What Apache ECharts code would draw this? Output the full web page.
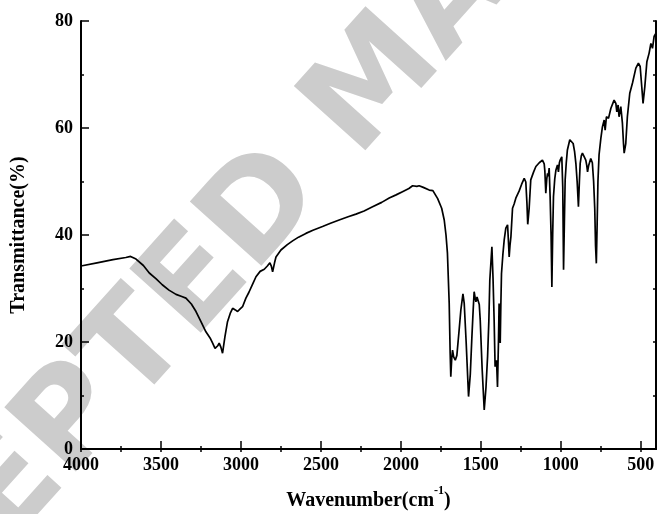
<!DOCTYPE html>
<html>
<head>
<meta charset="utf-8">
<script src="https://cdn.jsdelivr.net/npm/echarts@6/dist/echarts.min.js"></script>
<style>
html,body{margin:0;padding:0;background:#fff;overflow:hidden;}
#chart{width:657px;height:514px;}
</style>
</head>
<body>
<div id="chart"></div>
<script>
var wavenumbers = [4000,3900,3800,3720,3690,3656,3610,3573,3530,3492,3450,3406,3370,3344,3310,3281,3250,3219,3190,3177,3162,3145,3136,3125,3115,3100,3084,3065,3052,3035,3021,3005,2990,2969,2950,2927,2906,2880,2854,2835,2819,2810,2802,2790,2781,2750,2710,2677,2640,2594,2550,2490,2440,2386,2330,2281,2230,2177,2120,2073,2030,1990,1950,1927,1900,1886,1860,1823,1800,1790,1770,1761,1745,1729,1718,1709,1698,1692,1688,1682,1677,1670,1660,1650,1636,1625,1612,1604,1592,1577,1566,1556,1548,1542,1536,1531,1524,1517,1510,1504,1492,1479,1468,1458,1450,1444,1431,1424,1417,1411,1406,1402,1396,1390,1386,1382,1379,1375,1371,1362,1354,1344,1333,1327,1323,1318,1312,1302,1292,1280,1261,1245,1229,1219,1212,1207,1204,1198,1188,1170,1156,1135,1115,1104,1100,1094,1088,1083,1078,1073,1067,1061,1056,1051,1046,1038,1031,1021,1015,1009,1004,994,988,983,978,973,966,959,944,935,923,914,906,898,890,884,879,872,865,855,844,838,833,826,813,803,795,788,783,778,773,768,761,750,740,729,723,715,702,687,675,667,656,650,642,636,625,615,608,604,594,584,569,552,531,515,504,494,486,475,462,448,437,427,417,406];
var transmittance = [34.2,34.8,35.4,35.8,36.0,35.5,34.3,32.9,31.8,30.7,29.7,28.9,28.5,28.2,27.1,25.7,23.8,21.9,20.6,19.8,18.8,19.3,19.8,19.0,17.9,21.0,23.8,25.5,26.3,26.0,25.7,26.2,26.6,28.2,29.3,30.8,32.2,33.2,33.6,34.2,34.8,34.2,33.1,34.8,35.9,37.2,38.2,38.9,39.6,40.3,40.9,41.6,42.2,42.8,43.4,43.9,44.5,45.3,46.1,46.9,47.5,48.1,48.7,49.2,49.1,49.2,48.9,48.4,48.3,48.0,46.8,46.5,45.0,42.8,40.0,36.6,27.3,18.0,13.5,17.0,18.5,17.2,16.6,17.5,22.2,26.0,29.0,27.2,20.0,9.8,14.0,21.0,26.0,29.4,28.3,27.5,28.4,28.2,27.0,24.1,15.0,7.3,11.5,17.3,24.0,31.6,37.8,32.0,24.1,15.4,16.2,16.6,11.6,20.0,27.2,23.0,19.8,27.0,32.8,36.5,39.1,41.3,41.9,38.5,35.9,38.0,39.7,45.0,45.8,47.0,48.2,49.5,50.6,49.9,46.0,42.0,41.9,45.0,50.3,51.8,52.8,53.5,54.0,53.3,52.0,47.8,50.5,51.5,51.0,52.5,47.2,40.0,30.3,40.0,47.2,50.5,52.1,53.1,51.8,53.5,54.0,54.6,49.0,33.5,42.0,50.3,53.5,55.9,57.8,57.7,57.1,55.6,53.4,50.0,45.3,50.0,53.4,54.8,55.3,54.7,54.0,53.0,51.8,53.0,54.3,53.5,50.0,45.0,38.0,34.7,42.0,50.0,55.0,58.0,60.2,61.5,59.6,62.1,61.8,63.7,64.6,65.2,64.6,63.0,64.3,62.1,64.0,60.9,57.0,55.3,57.1,62.1,66.5,68.4,71.2,72.1,71.5,67.7,64.6,67.7,72.4,74.0,75.8,74.9,77.1,77.7];
var xTickLabels = [4000,3500,3000,2500,2000,1500,1000,500];
var xMinorTicks = [3750,3250,2750,2250,1750,1250,750];
var xTopTicks = [4000,3750,3500,3250,3000,2750,2500,2250,2000,1750,1500,1250,1000,750,500];
var yTickLabels = [0,20,40,60,80];
var xTitle = 'Wavenumber(cm';
var xTitleSup = '-1';
var yTitle = 'Transmittance(%)';
var watermark = 'ACCEPTED MANUSCRIPT';

var seriesData = wavenumbers.map(function(w, i){ return [w, transmittance[i]]; });

var FONT = 'Liberation Serif';
var XMIN = 405, XMAX = 4000;
var axisLineStyle = {color:'#000', width:2};

var chart = echarts.init(document.getElementById('chart'), null, {renderer:'canvas'});
chart.setOption({
  animation:false,
  backgroundColor:'#fff',
  grid:{left:81, top:21, width:575, height:428, containLabel:false, outerBoundsMode:'none'},
  graphic:[{
    type:'text', x:386, y:76, rotation: 48*Math.PI/180, z:0, silent:true,
    style:{text:watermark, fill:'#cccccc', font:'bold 132px "DejaVu Sans"', textAlign:'center', textVerticalAlign:'middle'}
  }],
  xAxis:[
    {type:'value', position:'bottom', inverse:true, min:XMIN, max:XMAX,
     axisLine:{show:true, lineStyle:axisLineStyle},
     axisTick:{show:true, inside:true, length:8, customValues:xTickLabels, lineStyle:{color:'#000', width:1.5}},
     axisLabel:{show:true, customValues:xTickLabels, margin:7, color:'#000', fontFamily:FONT, fontWeight:'bold', fontSize:18,
       formatter:function(v){ return String(v); }},
     splitLine:{show:false},
     name:'{a|'+xTitle+'}{s|'+xTitleSup+'}{a|)}', nameLocation:'middle', nameGap:36,
     nameTextStyle:{rich:{
       a:{fontFamily:FONT, fontWeight:'bold', fontSize:20, color:'#000', verticalAlign:'bottom', lineHeight:26},
       s:{fontFamily:FONT, fontWeight:'bold', fontSize:12, color:'#000', verticalAlign:'top', lineHeight:26}
     }}
    },
    {type:'value', position:'bottom', inverse:true, min:XMIN, max:XMAX,
     axisLine:{show:false},
     axisTick:{show:true, inside:true, length:3, customValues:xMinorTicks, lineStyle:{color:'#000', width:1.5}},
     axisLabel:{show:false}, splitLine:{show:false}
    },
    {type:'value', position:'top', inverse:true, min:XMIN, max:XMAX,
     axisLine:{show:true, lineStyle:axisLineStyle},
     axisTick:{show:true, inside:true, length:3, customValues:xTopTicks, lineStyle:{color:'#000', width:1.5}},
     axisLabel:{show:false}, splitLine:{show:false}
    }
  ],
  yAxis:[
    {type:'value', position:'left', min:0, max:80, interval:20,
     axisLine:{show:true, lineStyle:axisLineStyle},
     axisTick:{show:true, inside:true, length:8, lineStyle:{color:'#000', width:1.5}},
     axisLabel:{show:true, margin:8, color:'#000', fontFamily:FONT, fontWeight:'bold', fontSize:18,
       formatter:function(v){ return yTickLabels.indexOf(v) >= 0 ? String(v) : ''; }},
     splitLine:{show:false},
     name:yTitle, nameLocation:'middle', nameGap:52, nameRotate:90,
     nameTextStyle:{fontFamily:FONT, fontWeight:'bold', fontSize:20, color:'#000'}
    },
    {type:'value', position:'left', min:0, max:80, interval:10,
     axisLine:{show:false},
     axisTick:{show:true, inside:true, length:3, lineStyle:{color:'#000', width:1.5}},
     axisLabel:{show:false}, splitLine:{show:false}
    },
    {type:'value', position:'right', min:0, max:80, interval:10,
     axisLine:{show:true, lineStyle:axisLineStyle},
     axisTick:{show:true, inside:true, length:3, lineStyle:{color:'#000', width:1.5}},
     axisLabel:{show:false}, splitLine:{show:false}
    }
  ],
  series:[{
    type:'line', xAxisIndex:0, yAxisIndex:0, data:seriesData, showSymbol:false, symbol:'none',
    lineStyle:{color:'#000', width:1.7}, z:3, smooth:false
  }]
});
</script>
</body>
</html>
